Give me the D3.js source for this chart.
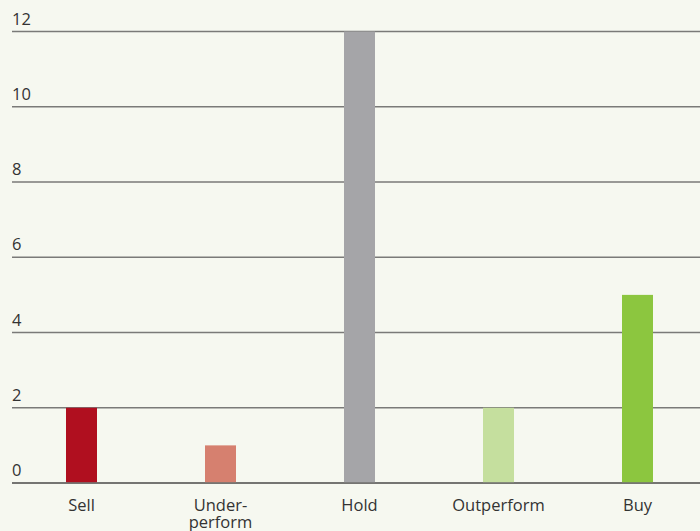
<!DOCTYPE html>
<html>
<head>
<meta charset="utf-8">
<script src="https://cdn.jsdelivr.net/npm/d3@7"></script>
<style>
  body { margin: 0; background: #f6f8f0; }
  text { font-family: "Open Sans", sans-serif; fill: #333; }
</style>
</head>
<body>
<div id="chart"></div>
<script>
var categories = ["Sell", "Under-\nperform", "Hold", "Outperform", "Buy"];
var values = [2, 1, 12, 2, 5];
var colors = ["#b00f1f", "#d6806f", "#a5a5a8", "#c5df9e", "#8cc63f"];
var yTicks = [0, 2, 4, 6, 8, 10, 12];

var width = 700, height = 531;
var svg = d3.select("#chart").append("svg")
  .attr("width", width).attr("height", height);

var x = d3.scaleBand().domain(categories).range([12, 707]).paddingInner(0).paddingOuter(0);
var y = d3.scaleLinear().domain([0, 12]).range([483, 31.5]);
var barW = 31;

// gridlines
svg.selectAll(".grid").data(yTicks).enter().append("line")
  .attr("x1", 12).attr("x2", 700)
  .attr("y1", function(d){ return y(d); })
  .attr("y2", function(d){ return y(d); })
  .attr("stroke", function(d){ return d === 0 ? "#4a4a48" : "#7a7a78"; })
  .attr("stroke-width", 1.6);

// tick labels
svg.selectAll(".ytick").data(yTicks).enter().append("text")
  .attr("x", 12)
  .attr("y", function(d){ return y(d) - 7; })
  .attr("font-size", 16.5)
  .text(function(d){ return d; });

// bars
svg.selectAll(".bar").data(values).enter().append("rect")
  .attr("x", function(d, i){ return x(categories[i]) + x.bandwidth()/2 - barW/2; })
  .attr("width", barW)
  .attr("y", function(d){ return y(d); })
  .attr("height", function(d){ return y(0) - y(d) - 0.8; })
  .attr("fill", function(d, i){ return colors[i]; });

// category labels
categories.forEach(function(c){
  var t = svg.append("text")
    .attr("x", x(c) + x.bandwidth()/2)
    .attr("y", 511)
    .attr("text-anchor", "middle")
    .attr("font-size", 16.5);
  c.split("\n").forEach(function(line, k){
    t.append("tspan").attr("x", x(c) + x.bandwidth()/2)
      .attr("dy", k === 0 ? 0 : 17)
      .text(line);
  });
});
</script>
</body>
</html>
